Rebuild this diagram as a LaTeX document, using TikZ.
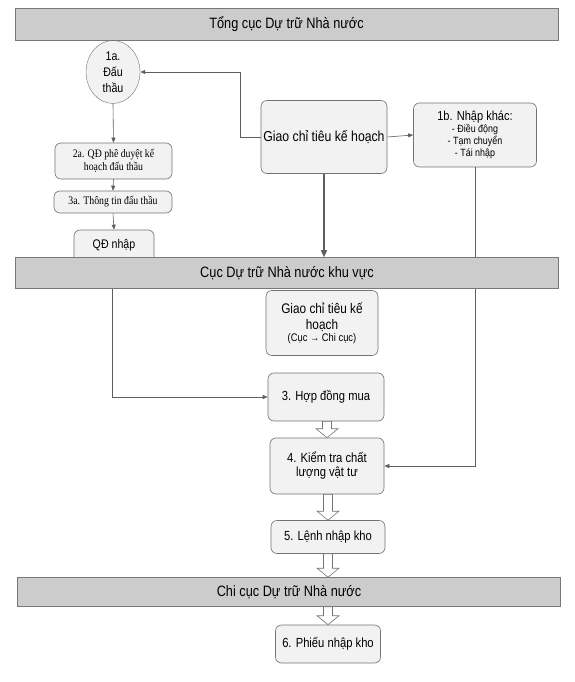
\documentclass[tikz,border=0pt]{standalone}
\usepackage{fontspec}
\setmainfont{Liberation Sans}[FakeStretch=0.85]
\newfontfamily\tnr{Liberation Serif}[FakeStretch=0.85]
\usetikzlibrary{arrows.meta,calc,shapes.geometric}
\definecolor{bandfill}{RGB}{204,204,204}
\definecolor{bandline}{RGB}{120,120,120}
\definecolor{boxfill}{RGB}{242,242,242}
\definecolor{boxline}{RGB}{115,115,115}
\definecolor{conn}{RGB}{95,95,95}
\newcommand\hollowarr[3]{\draw[hollowst] let \p1=(#1), \p2=(#2), \p3=(#3) in
  (\x3-4.5pt,\y1) -- (\x3+4.5pt,\y1) -- (\x3+4.5pt,\y2+9pt) -- (\x3+11pt,\y2+9pt)
  -- (\x3,\y2) -- (\x3-11pt,\y2+9pt) -- (\x3-4.5pt,\y2+9pt) -- cycle;}
\begin{document}
\begin{tikzpicture}[x=1pt,y=-1pt,
  band/.style={draw=bandline, fill=bandfill, line width=0.6pt, minimum width=543pt, inner sep=0pt, font=\fontsize{15}{17}\selectfont},
  box/.style={draw=boxline, fill=boxfill, rounded corners=6pt, line width=0.6pt, inner sep=0pt, align=center, font=\fontsize{13.2}{14}\selectfont},
  link/.style={draw=conn, line width=0.6pt},
  tip/.style={-{Triangle[length=5pt,width=4pt]}},
  hollowst/.style={draw=boxline, fill=white, line width=0.6pt, line join=miter}]
\useasboundingbox (0,0) rectangle (575,682);
\fill[white] (0,0) rectangle (575,682);

% nodes
\node[draw=boxline, fill=boxfill, ellipse, minimum width=54pt, minimum height=63pt, inner sep=0pt, align=center, font=\fontsize{12.5}{16}\selectfont] (dt) at (113,72) {1a.\\Đấu\\thầu};
\node[box, minimum width=126pt, minimum height=73pt, font=\fontsize{14.4}{16}\selectfont] (giao) at (324,137) {Giao chỉ tiêu kế hoạch};
\node[box, minimum width=123pt, minimum height=64pt, font=\fontsize{10.5}{12}\selectfont] (nk) at (475,135) {{\fontsize{13}{13}\selectfont 1b. Nhập khác:}\\- Điều động\\- Tạm chuyển\\- Tái nhập};
\node[box, minimum width=117pt, minimum height=36pt, font=\tnr\fontsize{11.5}{13}\selectfont] (qd2a) at (113.5,161) {2a. QĐ phê duyệt kế\\hoạch đấu thầu};
\node[box, minimum width=118pt, minimum height=22pt, font=\tnr\fontsize{11.5}{13}\selectfont] (tt3a) at (113,202) {3a. Thông tin đấu thầu};
\node[box, minimum width=80pt, minimum height=36pt, text depth=8pt, font=\fontsize{12.5}{14}\selectfont] (qdn) at (114,248) {QĐ nhập};

\node[box, minimum width=112pt, minimum height=65pt, font=\fontsize{13.9}{16}\selectfont] (giao2) at (322,323) {Giao chỉ tiêu kế\\hoạch\\[-4pt]{\fontsize{11}{12}\selectfont (Cục → Chi cục)}};
\node[box, minimum width=116pt, minimum height=48pt] (hop) at (326,397) {3. Hợp đồng mua};
\node[box, minimum width=114pt, minimum height=56pt] (kiem) at (327,466) {4. Kiểm tra chất\\lượng vật tư};
\node[box, minimum width=114pt, minimum height=33pt] (lenh) at (328,537) {5. Lệnh nhập kho};
\node[box, minimum width=105pt, minimum height=38pt] (phieu) at (328,644) {6. Phiếu nhập kho};

% connectors
\coordinate (bendL) at (240,72);
\draw[link, tip] (giao.west) -| (bendL) -- (dt.east);
\draw[link, tip] (giao.east) -- (nk.west);
\draw[link, tip] (dt.south) -- (qd2a.north);
\draw[link, tip] (qd2a.south) -- (tt3a.north);
\draw[link, tip] (tt3a.south) -- (qdn.north);
\draw[link, tip] (qdn.south -| 112,0) |- (hop.west);
\draw[link, tip] (nk.south) |- (kiem.east);

% bands
\node[band, minimum height=32pt] (b1) at (286.5,24) {Tổng cục Dự trữ Nhà nước};
\node[band, minimum height=31pt] (b2) at (287,273) {Cục Dự trữ Nhà nước khu vực};
\node[band, minimum height=29pt] (b3) at (289,592) {Chi cục Dự trữ Nhà nước};

\draw[draw=conn, line width=1.3pt, -{Triangle[length=7pt,width=6pt]}] (giao.south) -- (giao.south |- b2.north);

% hollow arrows
\hollowarr{hop.south}{kiem.north}{kiem.center}
\hollowarr{kiem.south}{lenh.north}{lenh.center}
\hollowarr{lenh.south}{b3.north}{lenh.center}
\hollowarr{b3.south}{phieu.north}{phieu.center}
\end{tikzpicture}
\end{document}
